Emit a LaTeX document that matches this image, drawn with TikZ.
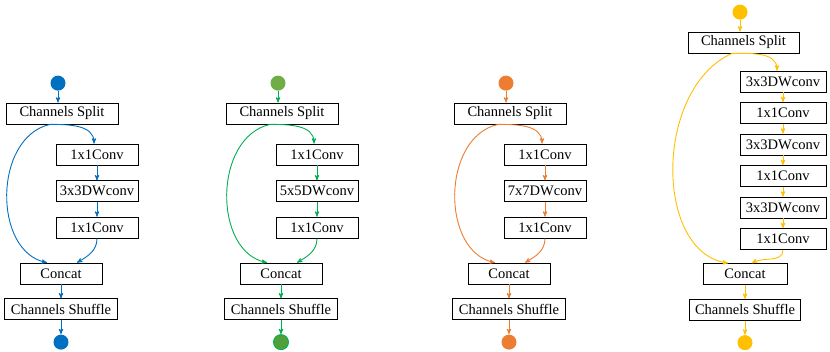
\documentclass[tikz,border=0pt]{standalone}
\usepackage{fontspec}
\setmainfont{Liberation Serif}
\usetikzlibrary{arrows,positioning}
\definecolor{cblue}{HTML}{0070C0}
\definecolor{cgreen}{HTML}{00B050}
\definecolor{cgreenin}{HTML}{70AD47}
\definecolor{cgreenout}{HTML}{4FA03A}
\definecolor{corange}{HTML}{ED7D31}
\definecolor{cyellow}{HTML}{FFC000}

\begin{document}
\begin{tikzpicture}[x=1pt,y=1pt,->,>=stealth',line width=0.9pt,
  layer node/.style={rectangle,draw=black,line width=0.8pt,minimum height=21pt,
    inner sep=0pt,font=\fontsize{14.5}{17}\selectfont},
  conv node/.style={layer node,minimum width=82pt},
  dot node/.style={circle,minimum size=15pt,inner sep=0pt}]

  \useasboundingbox (0,0) rectangle (830,352);

  % 3x3 block
  \node[layer node,minimum width=112pt] (S1) at (62,238.5) {Channels Split};
  \node[conv node] (A1) at (97,197.5) {1x1Conv};
  \node[conv node] (B1) [below=15pt of A1] {3x3DWconv};
  \node[conv node] (C1) [below=14.5pt of B1] {1x1Conv};
  \node[conv node] (K1) at (61,78.5) {Concat};
  \node[layer node,minimum width=113pt] (H1) [below=14pt of K1] {Channels Shuffle};
  \node[dot node,fill=cblue] (I1) [above=11.5pt of S1,xshift=-4pt] {};
  \node[dot node,fill=cblue] (O1) [below=14pt of H1] {};

  \path[cblue]
    (I1) edge (I1 |- S1.north)
    ([xshift=-12pt]S1.south) edge[out=0,in=90] ([xshift=-3pt]A1.north)
    (A1) edge (B1)
    (B1) edge (C1)
    (C1.south) edge[out=-90,in=30] ([xshift=16pt]K1.north)
    (K1.south) edge (K1.south |- H1.north)
    (H1) edge (O1);
  \draw[cblue] ([xshift=-12pt]S1.south) .. controls +(-57,-13) and +(-54,11) .. ([xshift=-14pt]K1.north);

  % 5x5 block
  \node[layer node,minimum width=112pt] (S2) at (282,238.5) {Channels Split};
  \node[conv node] (A2) at (317,197.5) {1x1Conv};
  \node[conv node] (B2) [below=15pt of A2] {5x5DWconv};
  \node[conv node] (C2) [below=14.5pt of B2] {1x1Conv};
  \node[conv node] (K2) at (281,78.5) {Concat};
  \node[layer node,minimum width=113pt] (H2) [below=14pt of K2] {Channels Shuffle};
  \node[dot node,fill=cgreenin] (I2) [above=11.5pt of S2,xshift=-4pt] {};
  \node[dot node,fill=cgreenout,draw=cgreen] (O2) [below=14pt of H2] {};

  \path[cgreen]
    (I2) edge (I2 |- S2.north)
    ([xshift=-12pt]S2.south) edge[out=0,in=90] ([xshift=-3pt]A2.north)
    (A2) edge (B2)
    (B2) edge (C2)
    (C2.south) edge[out=-90,in=30] ([xshift=16pt]K2.north)
    (K2.south) edge (K2.south |- H2.north)
    (H2) edge (O2);
  \draw[cgreen] ([xshift=-12pt]S2.south) .. controls +(-57,-13) and +(-54,11) .. ([xshift=-14pt]K2.north);

  % 7x7 block
  \node[layer node,minimum width=112pt] (S3) at (510,238.5) {Channels Split};
  \node[conv node] (A3) at (545,197.5) {1x1Conv};
  \node[conv node] (B3) [below=15pt of A3] {7x7DWconv};
  \node[conv node] (C3) [below=14.5pt of B3] {1x1Conv};
  \node[conv node] (K3) at (509,78.5) {Concat};
  \node[layer node,minimum width=113pt] (H3) [below=14pt of K3] {Channels Shuffle};
  \node[dot node,fill=corange] (I3) [above=11.5pt of S3,xshift=-4pt] {};
  \node[dot node,fill=corange] (O3) [below=14pt of H3] {};

  \path[corange]
    (I3) edge (I3 |- S3.north)
    ([xshift=-12pt]S3.south) edge[out=0,in=90] ([xshift=-3pt]A3.north)
    (A3) edge (B3)
    (B3) edge (C3)
    (C3.south) edge[out=-90,in=30] ([xshift=16pt]K3.north)
    (K3.south) edge (K3.south |- H3.north)
    (H3) edge (O3);
  \draw[corange] ([xshift=-12pt]S3.south) .. controls +(-57,-13) and +(-54,11) .. ([xshift=-14pt]K3.north);

  % stacked 3x3 block
  \node[layer node,minimum width=111pt] (S4) at (743.5,309.5) {Channels Split};
  \node[conv node,minimum width=86pt] (A4) at (783,270.5) {3x3DWconv};
  \node[conv node,minimum width=86pt] (B4) [below=9.7pt of A4] {1x1Conv};
  \node[conv node,minimum width=86pt] (C4) [below=9.7pt of B4] {3x3DWconv};
  \node[conv node,minimum width=86pt] (D4) [below=9.7pt of C4] {1x1Conv};
  \node[conv node,minimum width=86pt] (E4) [below=9.7pt of D4] {3x3DWconv};
  \node[conv node,minimum width=86pt] (F4) [below=9.7pt of E4] {1x1Conv};
  \node[conv node,minimum width=84pt] (K4) at (745,78) {Concat};
  \node[layer node,minimum width=111pt] (H4) [below=14pt of K4] {Channels Shuffle};
  \node[dot node,fill=cyellow] (I4) [above=11.5pt of S4,xshift=-3.5pt] {};
  \node[dot node,fill=cyellow] (O4) [below=14pt of H4] {};

  \path[cyellow]
    (I4) edge (I4 |- S4.north)
    ([xshift=-11.5pt]S4.south) edge[out=0,in=90] ([xshift=-6pt]A4.north)
    (A4) edge (B4)
    (B4) edge (C4)
    (C4) edge (D4)
    (D4) edge (E4)
    (E4) edge (F4)
    (F4.south) edge[out=-90,in=30] ([xshift=7pt]K4.north)
    (K4.south) edge (K4.south |- H4.north)
    (H4) edge (O4);
  \draw[cyellow] ([xshift=-11.5pt]S4.south) .. controls +(-78,-35) and +(-74,11) .. ([xshift=-17pt]K4.north);
\end{tikzpicture}
\end{document}
